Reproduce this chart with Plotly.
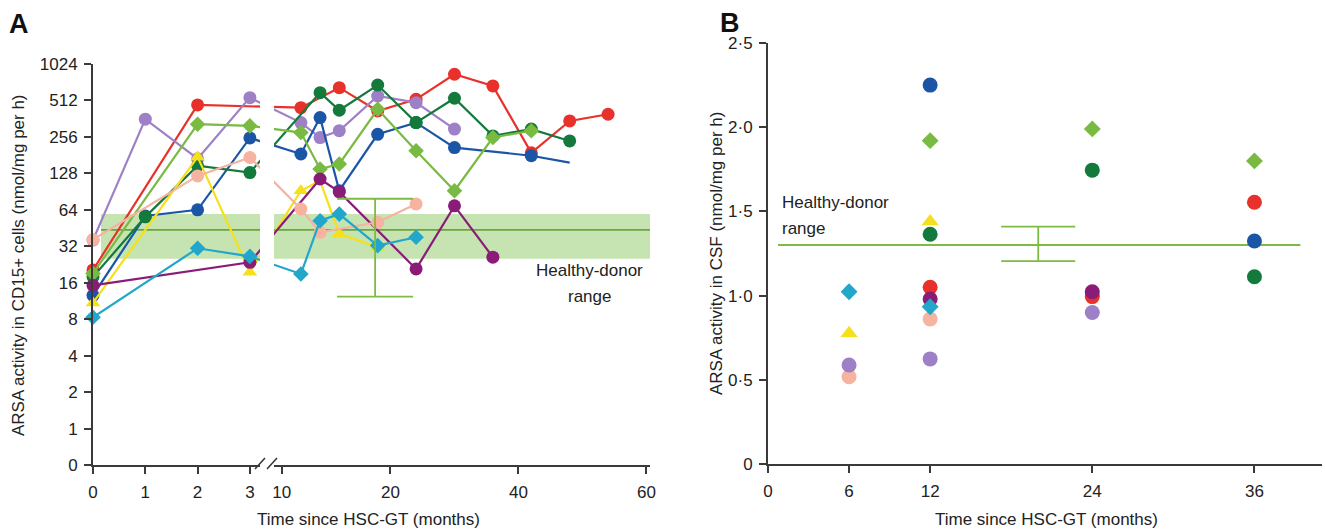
import plotly.graph_objects as go

# ---------------- Panel A data (ARSA activity in CD15+ cells) ----------------
MONTHS_A = [0, 1, 2, 3, 6, 9, 12, 18, 24, 30, 36, 42, 48, 54]
red_a      = [20.4, None, 470, None, 446, None, 653, 419, 523, 843, 675, 189, 347, 394]
purple_a   = [36, 359, 169, 540, 336, 253, 288, 557, 491, 297, None, None, None, None]
blue_a     = [12.6, 57, 64, 251, 185, 370, 92, 269, 336, 209, None, 179, 157, None]
dkgreen_a  = [17.9, 56, 148, 130, None, 594, 425, 686, 336, 534, 261, 297, 237, None]
ltgreen_a  = [19.1, None, 326, 316, 278, 139, 153, 433, 197, 92, 253, 288, None, None]
yellow_a   = [10.9, None, 175, 19.5, 92, 111, 40.5, 31.4, None, None, None, None, None, None]
magenta_a  = [15.2, None, None, 23.6, None, 115, 90, None, 20.8, 69, 26, None, None, None]
salmon_a   = [36.3, None, 122, 173, 65, 41.7, None, 50.5, 71.5, None, None, None, None, None]
cyan_a     = [8.3, None, 30.8, 26.4, 18.9, 52, 59, 32.4, 38, None, None, None, None, None]

Y_TICKS_A = [0.5, 1, 2, 4, 8, 16, 32, 64, 128, 256, 512, 1024]
Y_TICKTEXT_A = ["0", "1", "2", "4", "8", "16", "32", "64", "128", "256", "512", "1024"]
LEFT_TICKS = [0, 1, 2, 3]
RIGHT_TICK_MONTHS = [3, 20, 40, 60]
RIGHT_TICK_TEXT = ["10", "20", "40", "60"]

HEALTHY_A_LOW, HEALTHY_A_MID, HEALTHY_A_HIGH = 25.3, 43.7, 59
HEALTHY_A_ERR_LOW, HEALTHY_A_ERR_HIGH = 12.3, 79
HEALTHY_A_ERR_X = 17.6

# ---------------- Panel B data (ARSA activity in CSF) ----------------
MONTHS_B = [6, 12, 24, 36]
red_b     = [None, 1.05, 0.994, 1.554]
ltgreen_b = [None, 1.92, 1.99, 1.80]
dkgreen_b = [None, 1.364, 1.745, 1.112]
blue_b    = [None, 2.25, None, 1.324]
purple_b  = [0.588, 0.624, 0.90, None]
salmon_b  = [0.518, 0.861, None, None]
yellow_b  = [0.776, 1.44, None, None]
cyan_b    = [1.023, 0.934, None, None]
magenta_b = [None, 0.98, 1.023, None]

HEALTHY_B_MID, HEALTHY_B_LOW, HEALTHY_B_HIGH = 1.3, 1.205, 1.41
HEALTHY_B_ERR_X = 20

C = dict(red="#e8312b", purple="#9d80c6", blue="#1b56a6", dkgreen="#137a3c",
         ltgreen="#79ba43", yellow="#f6e01c", magenta="#8a1c78", salmon="#f5b3a0",
         cyan="#22a6c9")
GREEN = "#7dbb42"
AX = "#3a3a3a"
FONT = "Liberation Sans, Arial, sans-serif"

# ---- broken x-axis scale for panel A: left segment expanded (0-3 months), right compressed
LEFT_END = 3.0
RIGHT_UNITS_PER_MONTH = 6.4 / 52.3
RIGHT_POS_20 = 5.688


def xpos_right(m):
    return RIGHT_POS_20 + (m - 20) * RIGHT_UNITS_PER_MONTH


def xpos(m):
    return m if m <= LEFT_END else xpos_right(m)


XA = [xpos(m) for m in MONTHS_A]

fig = go.Figure()

series_a = [
    ("red", red_a, "circle", 13), ("purple", purple_a, "circle", 13),
    ("blue", blue_a, "circle", 13), ("dkgreen", dkgreen_a, "circle", 13),
    ("ltgreen", ltgreen_a, "diamond", 12), ("yellow", yellow_a, "triangle-up", 13),
    ("magenta", magenta_a, "circle", 13), ("salmon", salmon_a, "circle", 13),
    ("cyan", cyan_a, "diamond", 12),
]

# healthy donor band & mean line (panel A)
fig.add_shape(type="rect", xref="x", yref="y", x0=0.153, x1=10.65,
              y0=HEALTHY_A_LOW, y1=HEALTHY_A_HIGH, fillcolor="rgba(150,205,115,0.55)",
              line=dict(width=0), layer="below")
fig.add_shape(type="line", xref="x", yref="y", x0=0.153, x1=10.65,
              y0=HEALTHY_A_MID, y1=HEALTHY_A_MID, line=dict(color="#6aa63a", width=1.6),
              layer="below")

for name, vals, sym, size in series_a:
    sizes = [size] * len(vals)
    if name == "blue":
        sizes[12] = 0
    fig.add_trace(go.Scatter(
        x=XA, y=vals, mode="lines+markers", connectgaps=True, cliponaxis=False,
        line=dict(color=C[name], width=2.2),
        marker=dict(symbol=sym, size=sizes, color=C[name], opacity=1, line=dict(width=0)),
        xaxis="x", yaxis="y", showlegend=False, hoverinfo="skip"))

# healthy donor error bar (panel A)
fig.add_trace(go.Scatter(
    x=[xpos(HEALTHY_A_ERR_X)], y=[HEALTHY_A_MID], mode="markers",
    marker=dict(size=0.1, color=GREEN),
    error_y=dict(type="data", symmetric=False,
                 array=[HEALTHY_A_ERR_HIGH - HEALTHY_A_MID],
                 arrayminus=[HEALTHY_A_MID - HEALTHY_A_ERR_LOW],
                 color=GREEN, thickness=1.8, width=38),
    xaxis="x", yaxis="y", showlegend=False, hoverinfo="skip"))

# ---- Panel B ----
series_b = [
    ("yellow", yellow_b, "triangle-up", 15), ("dkgreen", dkgreen_b, "circle", 15),
    ("red", red_b, "circle", 15), ("magenta", magenta_b, "circle", 15),
    ("salmon", salmon_b, "circle", 15), ("cyan", cyan_b, "diamond", 13),
    ("purple", purple_b, "circle", 15), ("blue", blue_b, "circle", 15),
    ("ltgreen", ltgreen_b, "diamond", 13),
]
fig.add_shape(type="line", xref="x2", yref="y2", x0=0.74, x1=39.4,
              y0=HEALTHY_B_MID, y1=HEALTHY_B_MID, line=dict(color=GREEN, width=2),
              layer="below")
fig.add_trace(go.Scatter(
    x=[HEALTHY_B_ERR_X], y=[HEALTHY_B_MID], mode="markers",
    marker=dict(size=0.1, color=GREEN),
    error_y=dict(type="data", symmetric=False,
                 array=[HEALTHY_B_HIGH - HEALTHY_B_MID],
                 arrayminus=[HEALTHY_B_MID - HEALTHY_B_LOW],
                 color=GREEN, thickness=1.8, width=37),
    xaxis="x2", yaxis="y2", showlegend=False, hoverinfo="skip"))
for name, vals, sym, size in series_b:
    fig.add_trace(go.Scatter(
        x=MONTHS_B, y=vals, mode="markers", cliponaxis=False,
        marker=dict(symbol=sym, size=size, color=C[name], opacity=1, line=dict(width=0)),
        xaxis="x2", yaxis="y2", showlegend=False, hoverinfo="skip"))

W, H = 1325, 530
axis_common = dict(showline=True, linecolor=AX, linewidth=2, ticks="outside",
                   ticklen=7, tickwidth=1.5, tickcolor=AX, showgrid=False,
                   zeroline=False, automargin=False,
                   tickfont=dict(family=FONT, size=17, color="#222"))

fig.update_layout(
    template="none",
    width=W, height=H, margin=dict(l=0, r=0, t=0, b=0, pad=0),
    paper_bgcolor="white", plot_bgcolor="white",
    font=dict(family=FONT, size=17, color="#222"),
    xaxis=dict(domain=[93 / W, 650 / W], range=[0, 10.65],
               tickvals=LEFT_TICKS + [xpos_right(m) for m in RIGHT_TICK_MONTHS],
               ticktext=[str(t) for t in LEFT_TICKS] + RIGHT_TICK_TEXT,
               ticklabelstandoff=4, **axis_common),
    yaxis=dict(domain=[65 / H, 466 / H], type="log",
               range=[-0.30103, 3.0103], tickvals=Y_TICKS_A, ticktext=Y_TICKTEXT_A,
               anchor="x", ticklabelstandoff=3, **axis_common),
    xaxis2=dict(domain=[768 / W, 1322 / W], range=[0, 41.0],
                tickvals=[0, 6, 12, 24, 36], anchor="y2", ticklabelstandoff=4,
                **axis_common),
    yaxis2=dict(domain=[66 / H, 487 / H], range=[0, 2.5],
                tickvals=[0, 0.5, 1, 1.5, 2, 2.5],
                ticktext=["0", "0·5", "1·0", "1·5", "2·0", "2·5"],
                anchor="x2", ticklabelstandoff=3, **axis_common),
)

# axis break on panel A
fig.add_shape(type="rect", xref="x", yref="paper", x0=(260 - 93) / 52.3, x1=(274 - 93) / 52.3,
              y0=(H - 471) / H, y1=0.9, fillcolor="white", line=dict(width=0), layer="above")
for xa, xb in [(255, 265), (267, 277)]:
    fig.add_shape(type="line", xref="x", yref="paper",
                  x0=(xa - 93) / 52.3, x1=(xb - 93) / 52.3,
                  y0=(H - 469) / H, y1=(H - 458) / H,
                  line=dict(color=AX, width=1.6), layer="above")


def px_ann(text, x, y, size=17, bold=False, angle=0, xanchor="center"):
    fig.add_annotation(text=f"<b>{text}</b>" if bold else text, x=x / W, y=1 - y / H,
                       xref="paper", yref="paper", showarrow=False, textangle=angle,
                       xanchor=xanchor, yanchor="middle",
                       font=dict(family=FONT, size=size, color="#111" if bold else "#222"))


px_ann("A", 19, 24, size=27, bold=True)
px_ann("B", 730, 23, size=27, bold=True)
px_ann("ARSA activity in CD15+ cells (nmol/mg per h)", 18, 265, angle=-90)
px_ann("ARSA activity in CSF (nmol/mg per h)", 716, 254, angle=-90)
px_ann("Time since HSC-GT (months)", 368, 519)
px_ann("Time since HSC-GT (months)", 1046, 519)
px_ann("Healthy-donor", 589, 270)
px_ann("range", 589, 296)
px_ann("Healthy-donor", 780, 202, xanchor="left")
px_ann("range", 780, 228, xanchor="left")

fig.write_html("out.html", config={"displayModeBar": False},
               post_script="document.body.style.margin='0';"
                           "document.body.style.overflow='hidden';")
